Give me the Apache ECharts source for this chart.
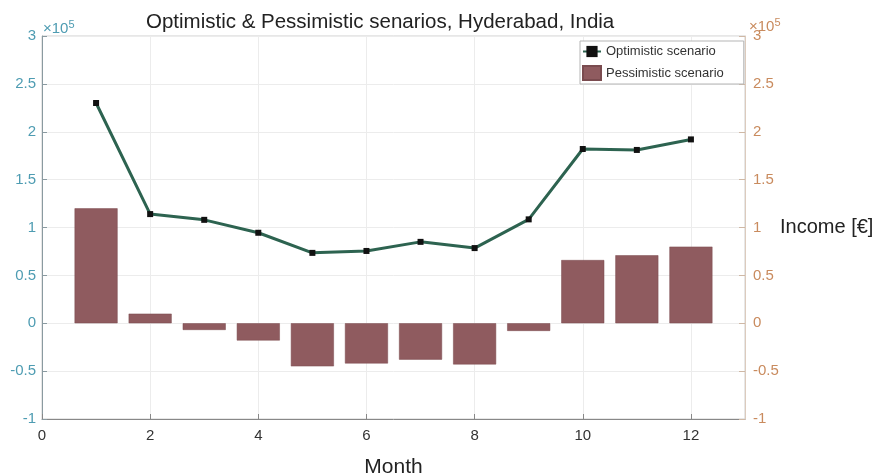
<!DOCTYPE html>
<html>
<head>
<meta charset="utf-8">
<script src="https://cdn.jsdelivr.net/npm/echarts@6/dist/echarts.min.js"></script>
<style>
html,body{margin:0;padding:0;background:#fff;}
#c{width:879px;height:476px;}
</style>
</head>
<body>
<div id="c"></div>
<script>
const months = [1, 2, 3, 4, 5, 6, 7, 8, 9, 10, 11, 12];
const optimistic = [230000, 114000, 108000, 94500, 73500, 75500, 85000, 78500, 108500, 182000, 181000, 192000];
const pessimistic = [120000, 10000, -7000, -18000, -45000, -42000, -38000, -43000, -8000, 66000, 71000, 80000];
const xTicks = [0, 2, 4, 6, 8, 10, 12];
const yTicks = [-1, -0.5, 0, 0.5, 1, 1.5, 2, 2.5, 3];
const titleText = 'Optimistic & Pessimistic senarios, Hyderabad, India';
const seriesNames = ['Optimistic scenario', 'Pessimistic scenario'];

const font = 'Liberation Sans, Arial, sans-serif';
const leftColor = '#4e9cb2';
const rightColor = '#c98b5e';
const fmtY = v => {
  const s = v / 1e5;
  return yTicks.includes(s) ? String(s) : '';
};
const expText = (x, y, color) => ({
  type: 'text', left: x, top: y, z: 10,
  style: {
    text: '×10{s|5}',
    font: '15px ' + font, fill: color,
    rich: {s: {fontFamily: font, fontSize: 11, fill: color, verticalAlign: 'top', padding: [0, 0, 9, 0]}}
  }
});

const chart = echarts.init(document.getElementById('c'), null, {renderer: 'canvas'});
chart.setOption({
  animation: false,
  backgroundColor: '#fff',
  title: {
    text: titleText,
    left: 141, top: 7,
    textStyle: {fontFamily: font, fontSize: 20.5, fontWeight: 'normal', color: '#222'}
  },
  grid: {left: 42, right: 134, top: 36, bottom: 57, show: true, borderColor: '#cfcfcf', borderWidth: 1, outerBoundsMode: 'none', containLabel: false},
  legend: {
    orient: 'vertical', left: 580, top: 41,
    backgroundColor: '#fff',
    borderColor: '#b5b5b5', borderWidth: 1, borderRadius: 0,
    padding: [4, 20, 3, 2], itemGap: 7,
    itemWidth: 18, itemHeight: 14,
    textStyle: {fontFamily: font, fontSize: 13, color: '#333'},
    data: [
      {name: seriesNames[0]},
      {name: seriesNames[1], icon: 'rect'}
    ]
  },
  xAxis: {
    type: 'value', min: 0, max: 13, interval: 2,
    name: 'Month', nameLocation: 'middle', nameGap: 38,
    nameTextStyle: {fontFamily: font, fontSize: 21, color: '#222'},
    axisLine: {show: true, onZero: false, lineStyle: {color: '#888', width: 1}},
    axisTick: {show: true, inside: true, length: 5, lineStyle: {color: '#888'}},
    axisLabel: {
      fontFamily: font, fontSize: 15, color: '#333', margin: 9,
      showMaxLabel: false,
      formatter: v => xTicks.includes(v) ? String(v) : ''
    },
    splitLine: {show: true, lineStyle: {color: '#ececec', width: 1}}
  },
  yAxis: [
    {
      type: 'value', min: -100000, max: 300000, interval: 50000, position: 'left',
      axisLine: {show: true, onZero: false, lineStyle: {color: '#8a9aa0', width: 1}},
      axisTick: {show: true, inside: true, length: 5, lineStyle: {color: '#8a9aa0'}},
      axisLabel: {fontFamily: font, fontSize: 15, color: leftColor, margin: 6, formatter: fmtY},
      splitLine: {show: true, lineStyle: {color: '#ececec', width: 1}}
    },
    {
      type: 'value', min: -100000, max: 300000, interval: 50000, position: 'right',
      name: 'Income [€]', nameLocation: 'middle', nameRotate: 0, nameGap: 35,
      nameMoveOverlap: false,
      nameTextStyle: {fontFamily: font, fontSize: 20, color: '#222', align: 'left'},
      axisLine: {show: true, onZero: false, lineStyle: {color: '#dccbbd', width: 1}},
      axisTick: {show: true, inside: true, length: 6, lineStyle: {color: '#cfb8a5'}},
      axisLabel: {fontFamily: font, fontSize: 15, color: rightColor, margin: 8, formatter: fmtY},
      splitLine: {show: false}
    }
  ],
  graphic: [
    expText(43, 19, leftColor),
    expText(749, 17, rightColor)
  ],
  series: [
    {
      name: seriesNames[1], type: 'bar', yAxisIndex: 0,
      barWidth: 43,
      itemStyle: {color: '#8f5b5f', borderColor: '#7a4b4f', borderWidth: 0.5},
      data: months.map((m, i) => [m, pessimistic[i]]),
      z: 2
    },
    {
      name: seriesNames[0], type: 'line', yAxisIndex: 0,
      symbol: 'rect', symbolSize: 6,
      lineStyle: {color: '#2d6350', width: 3},
      itemStyle: {color: '#111', borderWidth: 0},
      data: months.map((m, i) => [m, optimistic[i]]),
      z: 3
    }
  ]
});
</script>
</body>
</html>
